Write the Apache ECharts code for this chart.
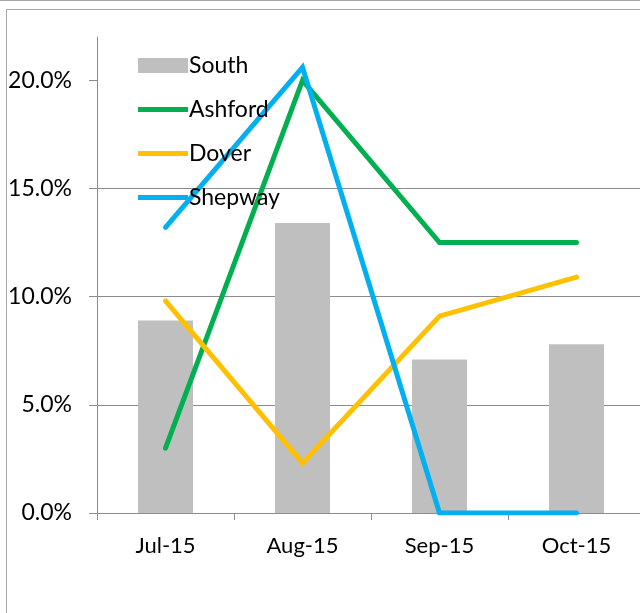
<!DOCTYPE html>
<html>
<head>
<meta charset="utf-8">
<script src="https://cdn.jsdelivr.net/npm/echarts@6/dist/echarts.min.js"></script>
<style>
  html, body { margin: 0; padding: 0; background: #fff; }
  #chart { width: 640px; height: 613px; }
</style>
</head>
<body>
<div id="chart"></div>
<script>
// values in percent
const categories = ['Jul-15', 'Aug-15', 'Sep-15', 'Oct-15'];
const south   = [8.9, 13.4, 7.1, 7.8];
const ashford = [3.0, 20.0, 12.5, 12.5];
const dover   = [9.8, 2.3, 9.1, 10.9];
const shepway = [13.2, 20.6, 0, 0];
const yTicks  = [0, 5, 10, 15, 20];

const FONT = 'Lato, "Open Sans", sans-serif';
const AXIS_GRAY = '#8c8c8c';
// flat bar used as legend icon for the line series
const LINE_ICON = 'path://M0,0H52V5H0Z';

const chart = echarts.init(document.getElementById('chart'), null, { renderer: 'canvas' });

const lineSeries = (name, data, color) => ({
  name, type: 'line', data,
  symbol: 'none',
  z: 3,
  lineStyle: { color, width: 5, cap: 'round', join: 'miter' },
  itemStyle: { color },
});

chart.setOption({
  animation: false,
  backgroundColor: '#fff',
  textStyle: { fontFamily: FONT },
  graphic: [
    { type: 'rect', shape: { x: 6.5, y: 9.5, width: 700, height: 700 },
      style: { fill: 'none', stroke: '#a6a6a6', lineWidth: 1 }, silent: true },
    { type: 'line', shape: { x1: 0, y1: 0.5, x2: 640, y2: 0.5 },
      style: { stroke: '#a6a6a6', lineWidth: 1 }, silent: true },
  ],
  legend: {
    orient: 'vertical',
    left: 133,
    top: 49,
    itemWidth: 50,
    itemHeight: 15,
    itemGap: 21,
    symbolKeepAspect: true,
    textStyle: { color: '#000', fontSize: 23, fontFamily: FONT, padding: [0, 0, 0, -4] },
    data: [
      { name: 'South', icon: 'rect' },
      { name: 'Ashford', icon: LINE_ICON },
      { name: 'Dover', icon: LINE_ICON },
      { name: 'Shepway', icon: LINE_ICON },
    ],
  },
  grid: { left: 97, top: 37, width: 548, bottom: 100, containLabel: false, outerBoundsMode: 'none' },
  xAxis: {
    type: 'category',
    data: categories,
    boundaryGap: true,
    axisLine: { lineStyle: { color: AXIS_GRAY, width: 1 } },
    axisTick: { show: true, length: 7, lineStyle: { color: AXIS_GRAY } },
    axisLabel: { color: '#000', fontSize: 22, fontFamily: FONT, margin: 22 },
    splitLine: { show: false },
  },
  yAxis: {
    type: 'value',
    min: 0,
    max: 22,
    interval: 5,
    axisLine: { show: true, lineStyle: { color: AXIS_GRAY, width: 1 } },
    axisTick: { show: true, length: 8, lineStyle: { color: AXIS_GRAY }, customValues: yTicks },
    axisLabel: {
      color: '#000', fontSize: 23, fontFamily: FONT, margin: 25,
      customValues: yTicks,
      formatter: v => v.toFixed(1) + '%',
    },
    splitLine: { show: true, showMaxLine: false, lineStyle: { color: AXIS_GRAY, width: 1 } },
  },
  series: [
    {
      name: 'South', type: 'bar', data: south,
      barWidth: 55,
      z: 2,
      itemStyle: { color: '#bfbfbf' },
    },
    lineSeries('Ashford', ashford, '#00b050'),
    lineSeries('Dover', dover, '#ffc000'),
    lineSeries('Shepway', shepway, '#00b0f0'),
  ],
});
</script>
</body>
</html>
